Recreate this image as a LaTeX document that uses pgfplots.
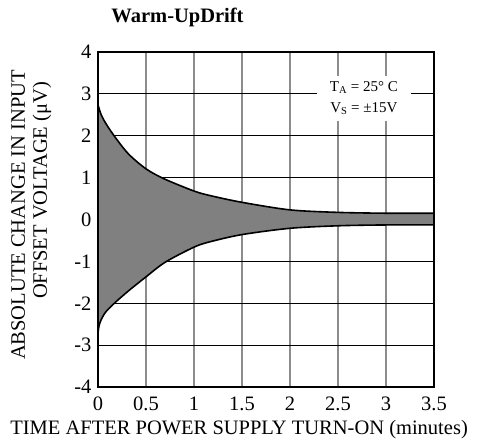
\documentclass[border=0pt]{standalone}
\usepackage{fontspec}
\setmainfont{Liberation Serif}
\usepackage{pgfplots}
\usepackage{pgfplotstable}
\pgfplotsset{compat=1.18}
\usepgfplotslibrary{fillbetween}
\pgfplotstableread{
x y
0 2.74
0.03 2.52
0.08 2.30
0.18 1.96
0.32 1.56
0.5 1.21
0.69 0.97
1.0 0.68
1.17 0.57
1.5 0.41
2.0 0.23
2.5 0.17
3.0 0.15
3.5 0.15
}\uppertab
\pgfplotstableread{
x y
0 -2.72
0.01 -2.55
0.03 -2.41
0.08 -2.21
0.18 -1.98
0.32 -1.70
0.5 -1.37
0.7 -1.02
1.0 -0.66
1.17 -0.53
1.5 -0.36
2.0 -0.21
2.5 -0.15
3.0 -0.13
3.5 -0.13
}\lowertab
\begin{document}
\begin{tikzpicture}
\begin{axis}[
  at={(0pt,0pt)}, anchor=south west,
  scale only axis, width=336pt, height=335pt,
  xmin=0, xmax=3.5, ymin=-4, ymax=4,
  xtick={0,0.5,...,3.5}, ytick={-4,-3,...,4},
  xticklabels={0,0.5,1,1.5,2,2.5,3,3.5},
  yticklabels={-4,-3,-2,-1,0,1,2,3,4},
  major tick length=0pt,
  /pgf/number format/assume math mode=true,
  tick label style={font=\fontsize{20.5}{24}\selectfont},
  xticklabel style={yshift=-6pt},
  yticklabel style={xshift=-3pt},
  axis line style={black, line width=1.5pt},
  grid=both,
  x grid style={gray!90, line width=1.4pt},
  y grid style={black, line width=0.8pt},
  xlabel={TIME AFTER POWER SUPPLY TURN-ON (minutes)},
  xlabel style={font=\fontsize{20.5}{24}\selectfont, at={(axis description cs:0.42,-0.143)}, anchor=base},
  ylabel={ABSOLUTE CHANGE IN INPUT},
  ylabel style={font=\fontsize{20.5}{24}\selectfont, at={(axis description cs:-0.2173,0.5134)}, anchor=base},
  title={\textbf{Warm-UpDrift}},
  title style={font=\fontsize{20.5}{24}\selectfont, at={(axis description cs:0.2366,1.0707)}, anchor=base},
  clip=false,
]
\addplot[name path=U, draw=none, smooth, tension=0.5] table {\uppertab};
\addplot[name path=L, draw=none, smooth, tension=0.5] table {\lowertab};
\addplot[fill=gray, draw=none] fill between[of=U and L];
\addplot[black, line width=1.6pt, smooth, tension=0.5] table {\uppertab};
\addplot[black, line width=1.6pt, smooth, tension=0.5] table {\lowertab};
\addplot[black, line width=1.4pt] coordinates {(0,2.74) (0,-2.72)};
\addplot[black, line width=1.6pt] coordinates {(3.5,0.15) (3.5,-0.13)};
\node[fill=white, inner sep=0pt, minimum width=94pt, minimum height=45pt, align=center,
      font=\fontsize{15}{21}\selectfont] at (axis cs:2.77,2.90)
  {T\textsubscript{A} = 25° C\\V\textsubscript{S} = ±15V};
\node[rotate=90, anchor=base, font=\fontsize{20.5}{24}\selectfont]
  at (axis description cs:-0.1518,0.5866) {OFFSET VOLTAGE (μV)};
\end{axis}
\pgfresetboundingbox
\useasboundingbox (-98pt,-53pt) rectangle (379pt,387pt);
\end{tikzpicture}
\end{document}
